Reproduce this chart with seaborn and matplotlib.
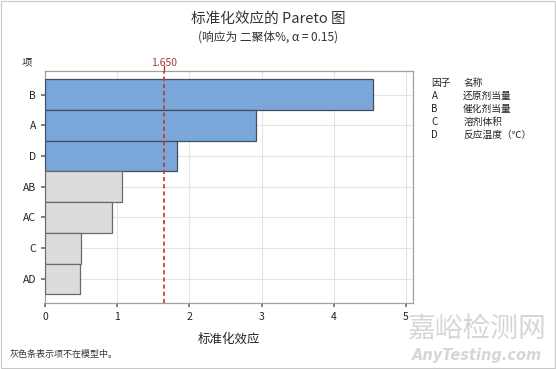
import numpy as np
import pandas as pd
import matplotlib.pyplot as plt
import seaborn as sns

# Datos
terminos = ["B", "A", "D", "AB", "AC", "C", "AD"]
efectos = [4.55, 2.92, 1.83, 1.06, 0.93, 0.50, 0.48]
en_modelo = [True, True, True, False, False, False, False]
valor_critico = 1.650

factores = ["A", "B", "C", "D"]
nombres = ["还原剂当量", "催化剂当量", "溶剂体积", "反应温度（℃）"]

df = pd.DataFrame({"Termino": terminos, "Efecto": efectos,
                   "Modelo": ["si" if m else "no" for m in en_modelo]})

sns.set_theme(style="white")
plt.rcParams['font.family'] = ['Noto Sans CJK SC', 'DejaVu Sans']

fig = plt.figure(figsize=(5.56, 3.69), dpi=100)
ax = fig.add_axes([0.081, 0.180, 0.662, 0.628])

sns.barplot(data=df, x="Efecto", y="Termino", hue="Modelo",
            palette={"si": "#7BA6D9", "no": "#DCDCDC"}, width=1.0,
            saturation=1, dodge=False, legend=False, ax=ax, zorder=3)

# colores de borde por grupo
for barra in ax.patches:
    fc = barra.get_facecolor()
    if fc[2] > 0.8 and fc[0] < 0.6:
        barra.set_edgecolor("#3F4F63")
    else:
        barra.set_edgecolor("#6A6A6A")
    barra.set_linewidth(0.9)

ax.axvline(valor_critico, color="#C0392B", ls=(0, (2.5, 1.8)), lw=1.2, zorder=4)
ax.text(valor_critico, 1.012, f"{valor_critico:.3f}", transform=ax.get_xaxis_transform(),
        ha="center", va="bottom", fontsize=7.5, color="#A23A44")
ax.plot([valor_critico, valor_critico], [1.0, 1.02], transform=ax.get_xaxis_transform(),
        color="#A23A44", lw=1, clip_on=False)

ax.set_xlim(0, 5.1)
ax.set_ylim(6.77, -0.77)
ax.set_xticks([0, 1, 2, 3, 4, 5])
ax.grid(True, color="#E4E4E4", lw=0.8, zorder=0)
ax.set_axisbelow(True)
for s in ax.spines.values():
    s.set_color("#A0A0A0")
    s.set_linewidth(0.9)
ax.tick_params(axis="both", which="both", length=3, color="#707070",
               labelsize=7.5, labelcolor="#222222", bottom=True, left=True)
ax.set_xlabel("标准化效应", fontsize=9, color="#222222", labelpad=8)
ax.set_ylabel("")

fig.text(0.483, 0.950, "标准化效应的 Pareto 图", ha="center", va="center",
         fontsize=10.5, color="#333333")
fig.text(0.483, 0.900, "(响应为 二聚体%, α = 0.15)", ha="center", va="center",
         fontsize=8.5, color="#333333")
fig.text(0.049, 0.832, "项", ha="center", va="center", fontsize=7.5, color="#222222")

# tabla de factores
x1, x2 = 0.776, 0.833
y0 = 1 - 83 / 369
dy = 13 / 369
fig.text(x1, y0, "因子", fontsize=7, va="center", color="#222222")
fig.text(x2, y0, "名称", fontsize=7, va="center", color="#222222")
for i, (f, n) in enumerate(zip(factores, nombres)):
    fig.text(x1, y0 - (i + 1) * dy, f, fontsize=7, va="center", color="#222222")
    fig.text(x2, y0 - (i + 1) * dy, n, fontsize=7, va="center", color="#222222")

fig.text(0.018, 0.038, "灰色条表示项不在模型中。", fontsize=6.5,
         va="center", color="#333333")

# marca de agua
fig.text(0.858, 0.108, "嘉峪检测网", fontsize=20, ha="center", va="center",
         color="#D6D6D6", zorder=0)
fig.text(0.858, 0.036, "AnyTesting.com", fontsize=10.5, ha="center", va="center",
         color="#D6D6D6", family="DejaVu Sans", weight="bold", style="italic", zorder=0)

borde = plt.Rectangle((0.002, 0.002), 0.996, 0.996, transform=fig.transFigure,
                      fill=False, ec="#C8C8C8", lw=0.8)
fig.patches.append(borde)

fig.savefig("out.png", dpi=100, facecolor="white")
